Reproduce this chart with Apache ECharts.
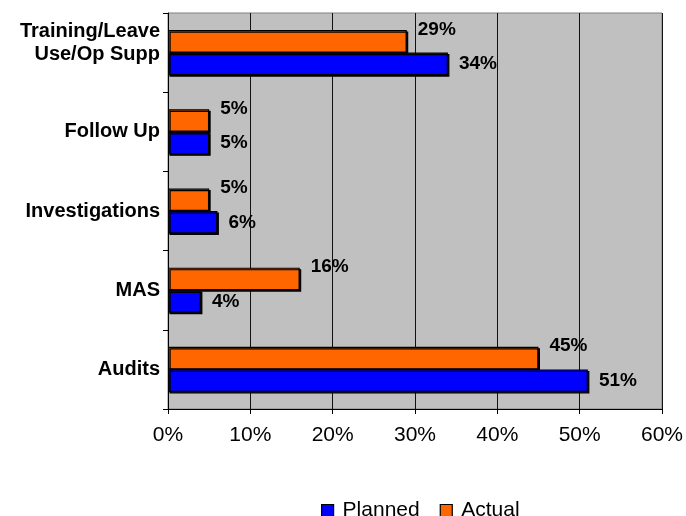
<!DOCTYPE html>
<html>
<head>
<meta charset="utf-8">
<script src="https://cdn.jsdelivr.net/npm/echarts@6/dist/echarts.min.js"></script>
<style>
  html, body { margin: 0; padding: 0; background: #fff; }
  #chart { width: 686px; height: 516px; }
</style>
</head>
<body>
<div id="chart"></div>
<script>
// Workload categories, bottom to top as drawn on the vertical axis
const categories = ['Audits', 'MAS', 'Investigations', 'Follow Up', 'Training/Leave\nUse/Op Supp'];
// Share of hours, in percent
const planned = [51, 4, 6, 5, 34];
const actual = [45, 16, 5, 5, 29];
const seriesNames = ['Planned', 'Actual'];
const axisMax = 60;
const axisStep = 10;

const FONT = 'Arial, "Liberation Sans", sans-serif';

const chart = echarts.init(document.getElementById('chart'), null, { renderer: 'canvas' });

const barStyle = (color) => ({
  color: color,
  borderColor: '#000',
  borderWidth: 1.2,
  shadowColor: '#000',
  shadowOffsetX: 1.5,
  shadowOffsetY: 1.5,
  shadowBlur: 0
});

const valueLabel = (offsetY) => ({
  show: true,
  position: 'right',
  distance: 11,
  offset: [0, offsetY],
  formatter: (p) => p.value + '%',
  fontFamily: FONT,
  fontWeight: 'bold',
  fontSize: 19,
  color: '#000'
});

chart.setOption({
  animation: false,
  backgroundColor: '#fff',
  grid: {
    left: 168, right: 22, top: 13, bottom: 107,
    show: true,
    backgroundColor: '#C0C0C0',
    borderColor: '#808080',
    borderWidth: 1
  },
  legend: {
    data: seriesNames,
    left: 316,
    top: 495,
    itemWidth: 12,
    itemHeight: 12,
    itemGap: 20,
    icon: 'rect',
    itemStyle: { borderColor: '#000', borderWidth: 1.2 },
    textStyle: { fontFamily: FONT, fontSize: 21, color: '#000', padding: [0, 0, 0, 4] }
  },
  xAxis: {
    type: 'value',
    min: 0,
    max: axisMax,
    interval: axisStep,
    axisLine: { show: true, lineStyle: { color: '#000', width: 1 } },
    axisTick: { show: true, length: 5, lineStyle: { color: '#000' } },
    splitLine: { show: true, lineStyle: { color: '#111', width: 1 } },
    axisLabel: {
      margin: 16,
      formatter: (v) => v + '%',
      fontFamily: FONT,
      fontSize: 21,
      color: '#000'
    }
  },
  yAxis: {
    type: 'category',
    data: categories,
    axisLine: { show: true, lineStyle: { color: '#000', width: 1 } },
    axisTick: { show: true, length: 5, lineStyle: { color: '#000' } },
    axisLabel: {
      margin: 8,
      fontFamily: FONT,
      fontWeight: 'bold',
      fontSize: 20,
      color: '#000',
      formatter: (v) => v.indexOf('\n') >= 0 ? '{top|' + v + '}' : v,
      rich: {
        top: {
          fontFamily: FONT,
          fontWeight: 'bold',
          fontSize: 20,
          lineHeight: 23,
          color: '#000',
          align: 'right',
          padding: [0, 0, 20, 0]
        }
      }
    }
  },
  // Actual is listed first so it sits on the upper half of each category band
  series: [
    {
      name: seriesNames[1],
      type: 'bar',
      data: actual,
      barGap: '0%',
      barCategoryGap: '43%',
      itemStyle: barStyle('#FF6600'),
      label: valueLabel(-12)
    },
    {
      name: seriesNames[0],
      type: 'bar',
      data: planned,
      barGap: '0%',
      barCategoryGap: '43%',
      itemStyle: barStyle('#0000FF'),
      label: valueLabel(0)
    }
  ]
});
</script>
</body>
</html>
